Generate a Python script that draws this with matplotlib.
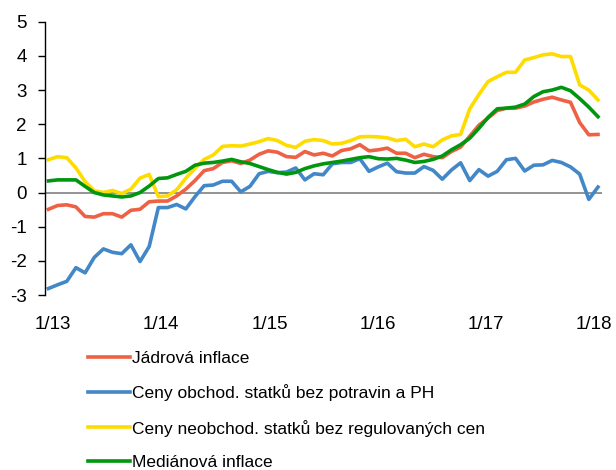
import numpy as np
import matplotlib.pyplot as plt

plt.rcParams['font.family'] = ['Liberation Sans', 'DejaVu Sans']
plt.rcParams['axes.unicode_minus'] = False

#monthly data 1/2013 - 1/2018
tick_labels = ['1/13', '1/14', '1/15', '1/16', '1/17', '1/18']

jadrova = [-0.49, -0.38, -0.36, -0.42, -0.70, -0.72, -0.62, -0.62, -0.72, -0.52,
           -0.49, -0.27, -0.25, -0.25, -0.10, 0.10, 0.35, 0.64, 0.70, 0.88,
           0.93, 0.85, 0.95, 1.12, 1.22, 1.18, 1.05, 1.03, 1.20, 1.10,
           1.15, 1.07, 1.23, 1.28, 1.40, 1.22, 1.25, 1.30, 1.15, 1.15,
           1.02, 1.12, 1.05, 1.02, 1.20, 1.33, 1.65, 1.97, 2.18, 2.40,
           2.47, 2.47, 2.53, 2.65, 2.73, 2.79, 2.71, 2.64, 2.05, 1.69,
           1.70]

obchod = [-2.81, -2.70, -2.60, -2.20, -2.35, -1.90, -1.65, -1.75, -1.79, -1.53,
          -2.02, -1.58, -0.44, -0.44, -0.35, -0.48, -0.12, 0.20, 0.22, 0.33,
          0.33, 0.02, 0.18, 0.55, 0.62, 0.58, 0.60, 0.72, 0.37, 0.55,
          0.52, 0.84, 0.88, 0.88, 0.99, 0.62, 0.75, 0.86, 0.61, 0.57,
          0.57, 0.76, 0.65, 0.39, 0.66, 0.87, 0.35, 0.67, 0.48, 0.62,
          0.96, 1.00, 0.63, 0.80, 0.81, 0.94, 0.88, 0.75, 0.54, -0.20,
          0.16]

neobchod = [0.96, 1.05, 1.02, 0.72, 0.32, 0.05, 0.00, 0.06, -0.03, 0.10,
            0.42, 0.53, -0.12, -0.10, 0.08, 0.42, 0.71, 0.97, 1.10, 1.35,
            1.37, 1.36, 1.42, 1.49, 1.58, 1.52, 1.38, 1.32, 1.50, 1.55,
            1.52, 1.42, 1.44, 1.52, 1.63, 1.64, 1.63, 1.60, 1.52, 1.56,
            1.34, 1.42, 1.34, 1.54, 1.66, 1.70, 2.45, 2.87, 3.25, 3.39,
            3.52, 3.52, 3.88, 3.95, 4.03, 4.06, 3.98, 3.98, 3.15, 3.00,
            2.71]

medianova = [0.34, 0.37, 0.37, 0.37, 0.18, 0.00, -0.07, -0.10, -0.13, -0.10,
             0.00, 0.19, 0.41, 0.43, 0.53, 0.62, 0.80, 0.86, 0.88, 0.92,
             0.97, 0.90, 0.85, 0.76, 0.67, 0.59, 0.54, 0.59, 0.70, 0.78,
             0.84, 0.88, 0.92, 0.97, 1.02, 1.05, 0.99, 0.98, 1.00, 0.95,
             0.88, 0.91, 0.97, 1.07, 1.25, 1.40, 1.59, 1.88, 2.20, 2.45,
             2.47, 2.50, 2.59, 2.81, 2.95, 3.00, 3.08, 2.98, 2.75, 2.50,
             2.22]

x = np.arange(len(jadrova))

fig = plt.figure(figsize=(6.16, 4.70), dpi=100)
ax = fig.add_axes([0.073, 0.3723, 0.9037, 0.5815])

ax.axhline(0, color='#808080', lw=1.2, zorder=1)

ax.plot(x, jadrova, color='#EE6144', lw=2.6, label='Jádrová inflace')
ax.plot(x, obchod, color='#4287C8', lw=2.6, label='Ceny obchod. statků bez potravin a PH')
ax.plot(x, neobchod, color='#FFDC00', lw=2.6, label='Ceny neobchod. statků bez regulovaných cen')
ax.plot(x, medianova, color='#00960E', lw=2.6, label='Mediánová inflace')

ax.set_xlim(-0.38, 60.4)
ax.set_ylim(-3, 5)
ax.set_yticks(range(-3, 6))
#category labels sit slightly off the yearly points, as in the original
ax.set_xticks(np.linspace(0.5, 59.6, len(tick_labels)))
ax.set_xticklabels(tick_labels)

ax.spines['top'].set_visible(False)
ax.spines['right'].set_visible(False)
ax.spines['bottom'].set_visible(False)
ax.spines['left'].set_linewidth(1.0)

ax.tick_params(axis='y', direction='out', length=5, width=1, labelsize=13.5, pad=8)
ax.tick_params(axis='x', length=0, labelsize=13.5, pad=15)

fig.legend(loc='upper left', bbox_to_anchor=(88/616, 1-351/470), frameon=False,
           fontsize=12.5, handlelength=2.4, handletextpad=0.15, labelspacing=1.05,
           borderpad=0, borderaxespad=0)

fig.savefig('out.png', dpi=100)
